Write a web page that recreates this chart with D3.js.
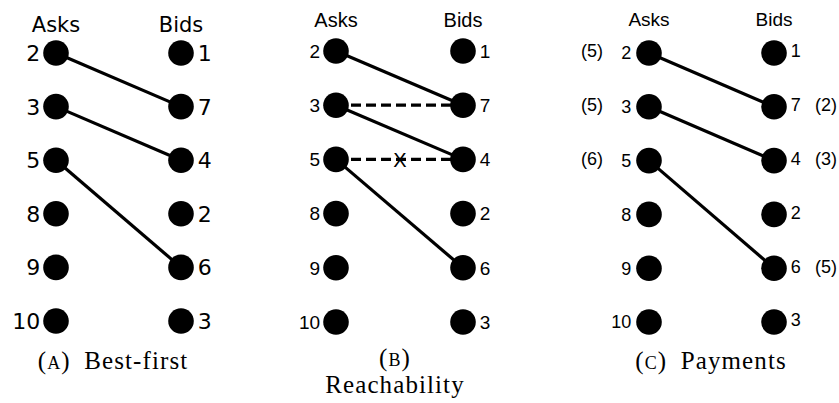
<!DOCTYPE html>
<html><head><meta charset="utf-8">
<script src="https://cdn.jsdelivr.net/npm/d3@7"></script>
<style>body{margin:0;background:#fff}svg{display:block}</style>
</head><body>
<svg id="chart" width="839" height="403"></svg>
<script>
// ---- data ----
const asks = [2, 3, 5, 8, 9, 10];
const bids = [1, 7, 4, 2, 6, 3];
const columns = ["Asks", "Bids"];
const matches = [[0, 1], [1, 2], [2, 4]];            // solid lines: ask row -> bid row
const reachDashed = [[1, 1, false], [2, 2, true]];   // dashed: ask row, bid row, crossed
const askPayments = ["(5)", "(5)", "(6)", null, null, null];
const bidPayments = [null, "(2)", "(3)", null, "(5)", null];
const captions = [
  { label: "A", lines: ["Best-first"] },
  { label: "B", lines: ["", "Reachability"] },
  { label: "C", lines: ["Payments"] }
];

// ---- layout ----
const SANS = "'Liberation Sans', Arial, Helvetica, sans-serif";
const SERIF = "'Liberation Serif', 'Times New Roman', serif";
const panels = [
  { x: [56, 181], y: [53, 321], font: "'DejaVu Sans', sans-serif", num: 22, head: 21, headY: 32, capY: 369, capX: 113, dashed: false, pay: false },
  { x: [336, 463], y: [51, 322], font: SANS, num: 19, head: 20, headY: 27, capY: 366, capX: 395, dashed: true, pay: false },
  { x: [649, 774], y: [53, 322], font: SANS, num: 18, head: 19, headY: 26, capY: 369, capX: 711, dashed: false, pay: true }
];

const svg = d3.select("#chart");
const R = 12.8;

panels.forEach((p, pi) => {
  const xs = d3.scalePoint().domain(columns).range(p.x);
  const ys = d3.scalePoint().domain(d3.range(asks.length)).range(p.y);
  const g = svg.append("g");

  // headers
  g.selectAll("text.head").data(columns).join("text")
    .attr("x", d => xs(d)).attr("y", p.headY)
    .attr("text-anchor", "middle")
    .style("font-family", p.font).style("font-size", p.head + "px")
    .text(d => d);

  // dashed reachability lines
  if (p.dashed) {
    reachDashed.forEach(([a, b, crossed]) => {
      g.append("line")
        .attr("x1", xs("Asks")).attr("y1", ys(a))
        .attr("x2", xs("Bids")).attr("y2", ys(b))
        .attr("stroke", "#000").attr("stroke-width", 3.2)
        .attr("stroke-dasharray", "10,5");
      if (crossed) {
        g.append("text")
          .attr("x", (xs("Asks") + xs("Bids")) / 2 + 0.5)
          .attr("y", ys(a))
          .attr("dy", "0.36em")
          .attr("text-anchor", "middle")
          .style("font-family", p.font).style("font-size", "20px")
          .text("X");
      }
    });
  }

  // solid matching lines
  g.selectAll("line.match").data(matches).join("line")
    .attr("x1", xs("Asks")).attr("y1", d => ys(d[0]))
    .attr("x2", xs("Bids")).attr("y2", d => ys(d[1]))
    .attr("stroke", "#000").attr("stroke-width", 3.2);

  // circles
  g.selectAll("circle.ask").data(asks).join("circle")
    .attr("cx", xs("Asks")).attr("cy", (d, i) => ys(i)).attr("r", R).attr("fill", "#000");
  g.selectAll("circle.bid").data(bids).join("circle")
    .attr("cx", xs("Bids")).attr("cy", (d, i) => ys(i)).attr("r", R).attr("fill", "#000");

  // ask numbers
  g.selectAll("text.askn").data(asks).join("text")
    .attr("x", xs("Asks") - R - (pi === 2 ? 5 : 3)).attr("y", (d, i) => ys(i))
    .attr("dy", "0.36em").attr("text-anchor", "end")
    .style("font-family", p.font).style("font-size", p.num + "px")
    .text(d => d);
  // bid numbers
  g.selectAll("text.bidn").data(bids).join("text")
    .attr("x", xs("Bids") + R + 4).attr("y", (d, i) => ys(i) - (pi === 2 ? 2 : 0))
    .attr("dy", "0.36em").attr("text-anchor", "start")
    .style("font-family", p.font).style("font-size", p.num + "px")
    .text(d => d);

  if (p.pay) {
    g.selectAll("text.askp").data(askPayments).join("text")
      .attr("x", xs("Asks") - 57).attr("y", (d, i) => ys(i) - 2)
      .attr("dy", "0.36em").attr("text-anchor", "middle")
      .style("font-family", p.font).style("font-size", p.num + "px")
      .text(d => d || "");
    g.selectAll("text.bidp").data(bidPayments).join("text")
      .attr("x", xs("Bids") + 52).attr("y", (d, i) => ys(i) - 2)
      .attr("dy", "0.36em").attr("text-anchor", "middle")
      .style("font-family", p.font).style("font-size", p.num + "px")
      .text(d => d || "");
  }

  // caption
  const c = captions[pi];
  const cap = g.append("text")
    .attr("x", p.capX).attr("y", p.capY).attr("text-anchor", "middle")
    .style("font-family", SERIF).style("font-size", "25px").style("letter-spacing", "1.1px");
  cap.append("tspan").text("(");
  cap.append("tspan").style("font-variant", "small-caps").text(c.label.toLowerCase());
  if (c.lines.length === 1) {
    cap.append("tspan").text(")\u2002" + c.lines[0]);
  } else {
    cap.append("tspan").text(")");
    g.append("text")
      .attr("x", p.capX).attr("y", p.capY + 27).attr("text-anchor", "middle")
      .style("font-family", SERIF).style("font-size", "25px").style("letter-spacing", "1.1px")
      .text(c.lines[1]);
  }
});
</script>
</body></html>
